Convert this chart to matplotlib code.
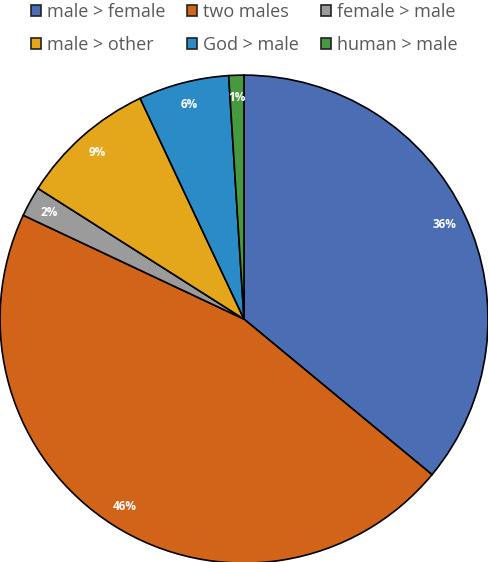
import matplotlib
matplotlib.use("Agg")
import matplotlib.pyplot as plt

categories = ["male > female", "two males", "female > male", "male > other", "God > male", "human > male"]
values = [36, 46, 2, 9, 6, 1]
colors = ["#4A6DB4", "#D16418", "#9B9B9B", "#E4A71B", "#2B8BC7", "#46993F"]

plt.rcParams['font.family'] = ['Open Sans', 'DejaVu Sans']

fig = plt.figure(figsize=(4.88, 5.62), dpi=100)
ax = fig.add_axes([0.0, -0.002, 1.0, 488 / 562])
wedges, texts, autotexts = ax.pie(
    values, colors=colors, startangle=90, counterclock=False,
    autopct=lambda p: f"{p:.0f}%", pctdistance=0.91,
    wedgeprops=dict(edgecolor="black", linewidth=1.2),
    textprops=dict(color="white", fontsize=8.5, fontweight="bold"),
)
ax.set_xlim(-1.0, 1.0)
ax.set_ylim(-1.0, 1.0)
ax.set_aspect("equal")
ax.axis("off")

# legend is filled column-wise; reorder so it reads row-wise like the reference
order = [0, 3, 1, 4, 2, 5]
leg = fig.legend(
    [wedges[i] for i in order], [categories[i] for i in order],
    ncol=3, loc="upper left", bbox_to_anchor=(0.048, 1.007),
    frameon=False, fontsize=13.0, handlelength=0.55, handleheight=0.55,
    handletextpad=0.35, columnspacing=1.2, labelspacing=0.82, borderaxespad=0,
)
for t in leg.get_texts():
    t.set_color("#595959")
for h in leg.legend_handles:
    h.set_edgecolor("#222222")
    h.set_linewidth(1.2)

fig.savefig("out.png", dpi=100)
